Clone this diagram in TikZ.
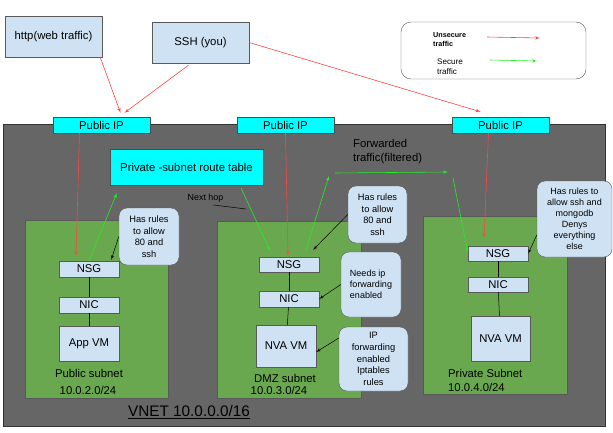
\documentclass[tikz,border=0pt]{standalone}
\usepackage{fontspec}
\setmainfont{Liberation Sans}
\usetikzlibrary{shapes,arrows}
\definecolor{boxblue}{HTML}{CFE2F3}
\definecolor{ipcyan}{HTML}{00FFFF}
\definecolor{netgreen}{HTML}{6AA84F}
\definecolor{vnetgray}{HTML}{666666}
\definecolor{edgegray}{HTML}{595959}
\definecolor{unsafered}{HTML}{FF4545}
\definecolor{safegreen}{HTML}{22EE22}
\tikzstyle{vnet} = [draw=black!80, fill=vnetgray]
\tikzstyle{subnet} = [draw=black!65, fill=netgreen]
\tikzstyle{client} = [rectangle, draw=edgegray, fill=boxblue, minimum width=97pt, minimum height=41pt, inner sep=0pt, font=\fontsize{11.3}{13}\selectfont]
\tikzstyle{pubip} = [rectangle, draw=black!70, fill=ipcyan, minimum width=97pt, minimum height=16pt, inner sep=0pt, font=\fontsize{11.3}{13}\selectfont]
\tikzstyle{routebox} = [rectangle, draw=black!70, fill=ipcyan, minimum width=153pt, minimum height=36pt, inner sep=0pt, font=\fontsize{11.3}{13}\selectfont]
\tikzstyle{part} = [rectangle, draw=edgegray, fill=boxblue, minimum width=60pt, minimum height=16pt, inner sep=0pt, font=\fontsize{11.3}{13}\selectfont]
\tikzstyle{note} = [rectangle, rounded corners=8pt, draw=edgegray, fill=boxblue, align=center, inner sep=0pt, font=\fontsize{9.3}{11.6}\selectfont]
\tikzstyle{keybox} = [rectangle, rounded corners=10pt, draw=edgegray, fill=white, minimum width=185pt, minimum height=57pt]
\tikzstyle{caption} = [inner sep=0pt, font=\fontsize{11.3}{13.3}\selectfont]
\tikzstyle{unsafe} = [draw=unsafered, line width=0.6pt, -latex']
\tikzstyle{safe} = [draw=safegreen, line width=0.6pt, -latex']
\tikzstyle{pointer} = [draw, line width=0.5pt, -latex']
\tikzstyle{link} = [draw, line width=0.5pt]
\begin{document}
\begin{tikzpicture}[x=1pt, y=-1pt]
      \useasboundingbox [fill=white] (0,0) rectangle (613,433);
      % Regions
      \path [vnet] (3,124) rectangle (605,426);
      \path [subnet] (25,220) rectangle (168,398);
      \path [subnet] (217,221) rectangle (361,398);
      \path [subnet] (423,216) rectangle (567,394);

      % Place nodes
      \node [client] (http) at (53.5,36.5) {http(web traffic)};
      \node [client] (ssh) at (200.5,42.5) {SSH (you)};
      \node [pubip] (pip1) at (101.5,125) {Public IP};
      \node [pubip] (pip2) at (285.5,125) {Public IP};
      \node [pubip] (pip3) at (500.5,125) {Public IP};
      \node [routebox] (route) at (186.5,167) {Private -subnet route table};
      \node [caption, font=\fontsize{8.9}{10}\selectfont] (nexthop) at (205.5,198) {Next hop};
      \node [caption, anchor=west, align=left] (fwd) at (353,151.5) {Forwarded\\traffic(filtered)};

      \node [keybox] (key) at (493.5,50.5) {};
      \node [caption, anchor=west, align=left, font=\fontsize{7.2}{9}\selectfont\bfseries] (unsafetxt) at (433,39.5) {Unsecure\\traffic};
      \node [caption, anchor=west, align=left, font=\fontsize{8.1}{9.5}\selectfont] (safetxt) at (437,66.5) {Secure\\traffic};

      \node [part] (nsg1) at (89,269) {NSG};
      \node [part] (nic1) at (89,305) {NIC};
      \node [part, minimum height=35pt] (vm1) at (89,343.5) {App VM};
      \node [caption] (pubname) at (89,373) {Public subnet};
      \node [caption] (pubcidr) at (88,390) {10.0.2.0/24};

      \node [part, minimum height=15pt] (nsg2) at (289,264.5) {NSG};
      \node [part] (nic2) at (289,299) {NIC};
      \node [part, minimum height=42pt] (vm2) at (286,346) {NVA VM};
      \node [caption] (dmzname) at (285,378) {DMZ subnet};
      \node [caption] (dmzcidr) at (279,390) {10.0.3.0/24};

      \node [part, minimum height=15pt] (nsg3) at (498,253.5) {NSG};
      \node [part, minimum height=15pt] (nic3) at (498,284.5) {NIC};
      \node [part, minimum width=59pt, minimum height=45pt] (vm3) at (500.5,338.5) {NVA VM};
      \node [caption, anchor=west] (privname) at (448,373) {Private Subnet};
      \node [caption, anchor=west] (privcidr) at (448,387) {10.0.4.0/24};

      \node [note, minimum width=60pt, minimum height=57pt] (c1) at (149,236.5) {Has rules\\to allow\\80 and\\ssh};
      \node [note, minimum width=59pt, minimum height=57pt] (c2) at (377.5,214.5) {Has rules\\to allow\\80 and\\ssh};
      \node [note, align=left, minimum width=60pt, minimum height=65pt, font=\fontsize{9}{11}\selectfont] (c3) at (371,284.5) {Needs ip\\forwarding\\enabled};
      \node [note, minimum width=69pt, minimum height=64pt] (c4) at (373.5,359) {IP\\forwarding\\enabled\\Iptables\\rules};
      \node [note, minimum width=75pt, minimum height=76pt, font=\fontsize{9}{11}\selectfont] (c5) at (574.5,219) {Has rules to\\allow ssh and\\mongodb\\Denys\\everything\\else};

      \node [caption, font=\fontsize{15.3}{17}\selectfont] (vnetname) at (189,412) {\underline{VNET 10.0.0.0/16}};

      % Free ends
      \coordinate (keyA) at (487,37);
      \coordinate (keyB) at (540,38);
      \coordinate (keyC) at (490,60);
      \coordinate (keyD) at (537,61);
      \coordinate (hop) at (246,209);
      \coordinate (fw1) at (329,176);
      \coordinate (fw2) at (335,173);
      \coordinate (fw3) at (448,172);
      \coordinate (fw4) at (453,178);

      % Draw edges
      \path [unsafe] (keyA) -- (keyB);
      \path [safe] (keyC) -- (keyD);
      \path [unsafe] ([xshift=-2pt]http.south east) -- ([xshift=19pt,yshift=4pt]pip1.north);
      \path [unsafe] ([xshift=-12pt,yshift=-2pt]ssh.south) -- ([xshift=23pt,yshift=4pt]pip1.north);
      \path [unsafe] (ssh.east) -- ([xshift=-20pt,yshift=5pt]pip3.north);
      \path [unsafe] ([xshift=-22pt]pip1.south) -- ([xshift=-13pt,yshift=5pt]nsg1.north);
      \path [unsafe] (pip2.south) -- ([xshift=-1pt,yshift=1pt]nsg2.north);
      \path [unsafe] ([xshift=-12pt]pip3.south) -- ([xshift=-14pt,yshift=8pt]nsg3.north);
      \path [safe] (nsg1.north) -- ([xshift=7pt,yshift=-8pt]route.south west);
      \path [safe] ([xshift=-22pt,yshift=-3pt]route.south east) -- ([xshift=-19pt,yshift=6pt]nsg2.north);
      \path [safe] ([xshift=17pt,yshift=7pt]nsg2.north) -- (fw1);
      \path [safe] (fw2) -- (fw3);
      \path [safe] (fw4) -- ([yshift=1pt]nsg3.west);
      \path [link] ([xshift=8pt,yshift=-7pt]nexthop.center) -- (hop);
      \path [pointer] (c1.west) -- ([xshift=-8pt,yshift=1pt]nsg1.north east);
      \path [pointer] (c2.west) -- ([xshift=-6pt,yshift=7pt]nsg2.north east);
      \path [pointer] (c3.west) -- (nic2.east);
      \path [pointer] ([yshift=21pt]c4.west) -- ([yshift=-6pt]vm2.east);
      \path [pointer] ([yshift=-16pt]c5.west) -- (nsg3.east);
      \path [link] (nsg1) -- (nic1);
      \path [link] (nic1) -- (vm1);
      \path [link] (nsg2) -- (nic2);
      \path [link] (nic2) -- (vm2);
      \path [link] (nsg3) -- (nic3);
      \path [link] (nic3) -- (vm3);
\end{tikzpicture}
\end{document}
